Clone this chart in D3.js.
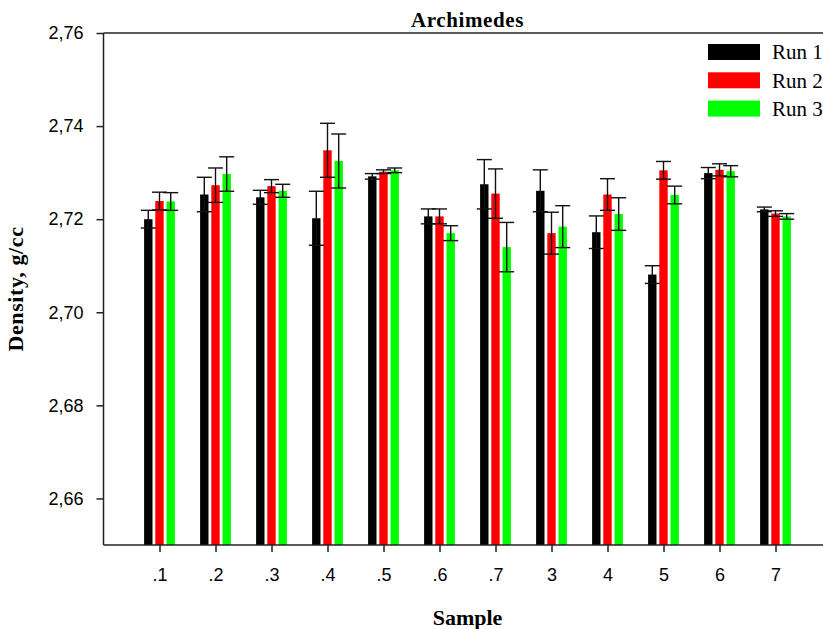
<!DOCTYPE html>
<html><head><meta charset="utf-8">
<script src="https://cdn.jsdelivr.net/npm/d3@7"></script>
<style>body{margin:0;background:#fff;}svg{display:block;}</style>
</head><body>
<script>
const categories = [".1", ".2", ".3", ".4", ".5", ".6", ".7", "3", "4", "5", "6", "7"];
const seriesNames = ["Run 1", "Run 2", "Run 3"];
const seriesColors = ["#000000", "#ff0000", "#00ff00"];
const run1 = [2.7200, 2.7253, 2.7247, 2.7202, 2.7292, 2.7206, 2.7275, 2.7261, 2.7172, 2.7081, 2.7299, 2.7221];
const err1 = [0.0019, 0.0037, 0.0015, 0.0058, 0.0006, 0.0016, 0.0053, 0.0045, 0.0035, 0.0019, 0.0012, 0.0005];
const run2 = [2.7239, 2.7273, 2.7271, 2.7348, 2.7302, 2.7206, 2.7255, 2.7170, 2.7253, 2.7305, 2.7306, 2.7212];
const err2 = [0.0019, 0.0037, 0.0014, 0.0058, 0.0004, 0.0016, 0.0053, 0.0045, 0.0034, 0.0019, 0.0013, 0.0006];
const run3 = [2.7238, 2.7297, 2.7261, 2.7325, 2.7305, 2.7170, 2.7140, 2.7184, 2.7211, 2.7252, 2.7303, 2.7206];
const err3 = [0.0019, 0.0037, 0.0014, 0.0058, 0.0005, 0.0016, 0.0053, 0.0045, 0.0035, 0.0019, 0.0012, 0.0006];
const yTicks = [2.66, 2.68, 2.70, 2.72, 2.74, 2.76];

(function () {
const values = [run1, run2, run3];
const errors = [err1, err2, err3];

const W = 823, H = 629;
const mLeft = 103.5, mRight = 831.5, mTop = 33, mBottom = 545;

const svg = d3.select("body").append("svg").attr("width", W).attr("height", H);

const x = d3.scalePoint().domain(categories).range([mLeft, mRight]).padding(1);
const xs = d3.scaleBand().domain(seriesNames).range([-15.4, 15.4]).paddingInner(0.25);
const y = d3.scaleLinear().domain([2.65, 2.76]).range([mBottom, mTop]);

const fmt = d => d3.format(".2f")(d).replace(".", ",");
const serif = "Liberation Serif, Times New Roman, serif";

// bars
const g = svg.append("g");
seriesNames.forEach((s, si) => {
  g.selectAll(null).data(categories).enter().append("rect")
    .attr("x", c => x(c) + xs(s))
    .attr("width", xs.bandwidth())
    .attr("y", (c, i) => y(values[si][i]))
    .attr("height", (c, i) => y(2.65) - y(values[si][i]))
    .attr("fill", seriesColors[si]);
});
// error bars
const eg = svg.append("g").attr("stroke", "#111").attr("stroke-width", 1.4).attr("fill", "none");
seriesNames.forEach((s, si) => {
  categories.forEach((c, i) => {
    const cx = x(c) + xs(s) + xs.bandwidth() / 2;
    const v = values[si][i], e = errors[si][i];
    const y1 = y(v + e), y2 = y(v - e);
    eg.append("line").attr("x1", cx).attr("x2", cx).attr("y1", y1).attr("y2", y2);
    eg.append("line").attr("x1", cx - 7.5).attr("x2", cx + 7.5).attr("y1", y1).attr("y2", y1);
    eg.append("line").attr("x1", cx - 7.5).attr("x2", cx + 7.5).attr("y1", y2).attr("y2", y2);
  });
});

// axes
const yAxis = d3.axisLeft(y).tickValues(yTicks).tickFormat(fmt).tickSize(7).tickPadding(13);
const ya = svg.append("g").attr("transform", `translate(${mLeft},0)`).call(yAxis);
ya.select(".domain").attr("d", `M0,${mTop}V${mBottom}`);
const xAxis = d3.axisBottom(x).tickSize(7).tickPadding(16);
const xa = svg.append("g").attr("transform", `translate(0,${mBottom})`).call(xAxis);
xa.select(".domain").attr("d", `M${mLeft},0H${mRight}`);
svg.append("line").attr("x1", mLeft).attr("x2", mRight).attr("y1", mTop).attr("y2", mTop)
  .attr("stroke", "#222").attr("stroke-width", 1.5);
[ya, xa].forEach(a => {
  a.selectAll("path,line").attr("stroke", "#222").attr("stroke-width", 1.5);
  a.selectAll("text").attr("font-family", "Liberation Sans, Arial, sans-serif").attr("font-size", 18).attr("fill", "#000");
});

// title and labels
svg.append("text").attr("x", (mLeft + mRight) / 2).attr("y", 27).attr("text-anchor", "middle")
  .attr("font-family", serif).attr("font-weight", "bold").attr("font-size", 21).attr("letter-spacing", 0.6)
  .text("Archimedes");
svg.append("text").attr("x", (mLeft + mRight) / 2).attr("y", 625).attr("text-anchor", "middle")
  .attr("font-family", serif).attr("font-weight", "bold").attr("font-size", 22)
  .text("Sample");
svg.append("text").attr("transform", `translate(23,${(mTop + mBottom) / 2}) rotate(-90)`).attr("text-anchor", "middle")
  .attr("font-family", serif).attr("font-weight", "bold").attr("font-size", 22).attr("letter-spacing", 0.6)
  .text("Density, g/cc");

// legend
const lg = svg.append("g");
seriesNames.forEach((s, i) => {
  lg.append("rect").attr("x", 708).attr("y", 44 + i * 28.3).attr("width", 52).attr("height", 16).attr("fill", seriesColors[i]);
  lg.append("text").attr("x", 772).attr("y", 59 + i * 28.5)
    .attr("font-family", serif).attr("font-size", 21).text(s);
});
})();
</script>
</body></html>
